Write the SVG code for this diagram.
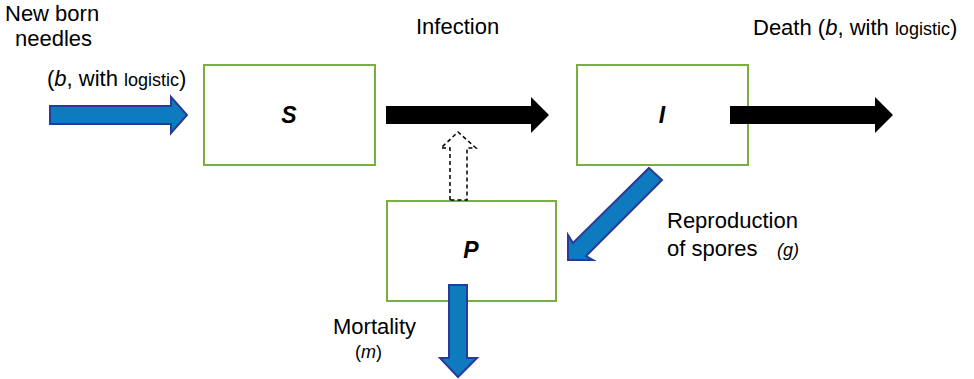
<svg xmlns="http://www.w3.org/2000/svg" width="974" height="379" viewBox="0 0 974 379">
<style>
.box{fill:#fff;stroke:#77B041;stroke-width:2}
.t{font-family:"Liberation Sans",Arial,sans-serif;font-size:22px;fill:#000}
.s{font-size:18px}
.lbl{font-family:"Liberation Sans",Arial,sans-serif;font-size:23px;font-weight:bold;font-style:italic;text-anchor:middle}
.blue{fill:#0F7BBF;stroke:#2B3A98;stroke-width:2;stroke-linejoin:miter}
.black{fill:#000}
.dash{fill:#fff;stroke:#000;stroke-width:1.5;stroke-dasharray:4,3}
</style>
<rect width="974" height="379" fill="#fff"/>
<g id="S"><rect class="box" x="204" y="65" width="171" height="100"/><text class="lbl" x="289" y="123">S</text></g>
<g id="I"><rect class="box" x="577" y="65" width="171" height="100"/><text class="lbl" x="662" y="123">I</text></g>
<g id="P"><rect class="box" x="387" y="201" width="169" height="100"/><text class="lbl" x="471" y="258">P</text></g>
<g id="connectors">
<polygon class="blue" points="50,106 171,106 171,97 187,115 171,133 171,124 50,124"/>
<polygon class="black" points="386,106 531,106 531,97 549,115 531,133 531,124 386,124"/>
<polygon class="black" points="730,106 875,106 875,97 893,115 875,133 875,124 730,124"/>
<polygon class="dash" points="450,200 450,148 441,148 458,132 476,148 467,148 467,200"/>
<polygon class="blue" points="649,168 662,180 586,256 593,260 568,260 568,235 573,243"/>
<polygon class="blue" points="449,285 467,285 467,358 477,358 458,377 440,358 449,358"/>
</g>
<g id="labels">
<text class="t" x="5" y="21">New born</text>
<text class="t" x="15" y="46">needles</text>
<text class="t" x="47" y="86">(<tspan font-style="italic">b</tspan>, with <tspan class="s">logistic</tspan>)</text>
<text class="t" x="416" y="34">Infection</text>
<text class="t" x="753" y="35">Death (<tspan font-style="italic">b</tspan>, with <tspan class="s">logistic</tspan>)</text>
<text class="t" x="667" y="228">Reproduction</text>
<text class="t" x="667" y="256">of spores</text>
<text class="t s" x="777" y="256" font-style="italic">(g)</text>
<text class="t" x="333" y="334">Mortality</text>
<text class="t s" x="355" y="358">(<tspan font-style="italic">m</tspan>)</text>
</g>
</svg>
